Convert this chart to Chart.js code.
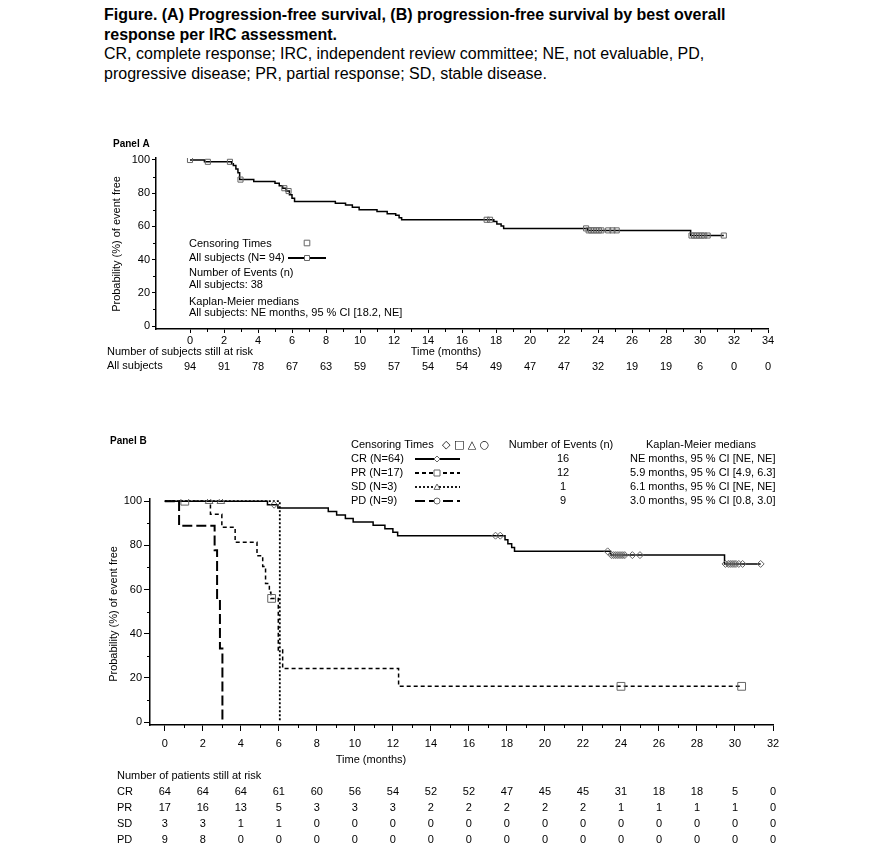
<!DOCTYPE html>
<html>
<head>
<meta charset="utf-8">
<script src="https://cdn.jsdelivr.net/npm/chart.js@4.4.0/dist/chart.umd.min.js"></script>
<style>
  body { margin:0; background:#fff; width:889px; height:853px; overflow:hidden;
         font-family:"Liberation Sans", Arial, sans-serif; color:#000; }
  #head { position:absolute; left:104px; top:5px; font-size:16px; line-height:19.5px; }
  #head b { font-weight:bold; }
  .wrap { position:absolute; left:0; }
  #wrapA { top:130px; width:889px; height:250px; }
  #wrapB { top:420px; width:889px; height:433px; }
</style>
</head>
<body>
<div id="head">
  <b>Figure. (A) Progression-free survival, (B) progression-free survival by best overall<br>response per IRC assessment.</b><br>
  CR, complete response; IRC, independent review committee; NE, not evaluable, PD,<br>
  progressive disease; PR, partial response; SD, stable disease.
</div>
<div class="wrap" id="wrapA"><canvas id="chartA" width="889" height="250"></canvas></div>
<div class="wrap" id="wrapB"><canvas id="chartB" width="889" height="433"></canvas></div>
<script>
// ---- Panel A data (all subjects) ----
const timesA = [0, 0.85, 2.45, 2.55, 2.7, 2.82, 2.92, 3.75, 5.0, 5.25, 5.45, 5.65, 5.85, 6.0, 6.15,
                8.55, 9.15, 9.55, 9.95, 11.0, 11.6, 12.1, 12.3, 12.45, 17.87, 18.05, 18.3, 18.45,
                23.4, 29.45, 31.4];
const survA  = [100, 98.9, 97.8, 96.7, 94.5, 92.3, 88.2, 87.0, 86.0, 84.5, 83.0, 81.3, 79.0, 77.0, 75.0,
                74.0, 72.9, 71.5, 70.0, 69.0, 67.6, 66.7, 65.2, 64.0, 62.9, 61.5, 60.2, 58.8,
                57.6, 54.5, 54.5];
const censorA = [0, 1.05, 2.35, 2.97, 5.55, 5.8, 17.45, 17.65, 23.3, 23.45, 23.6, 23.75, 23.9, 24.05,
                 24.2, 24.6, 24.85, 25.1, 29.5, 29.65, 29.8, 29.95, 30.1, 30.25, 30.45, 31.4];
const riskTimesA = [0, 2, 4, 6, 8, 10, 12, 14, 16, 18, 20, 22, 24, 26, 28, 30, 32, 34];
const riskA = [94, 91, 78, 67, 63, 59, 57, 54, 54, 49, 47, 47, 32, 19, 19, 6, 0, 0];

// ---- Panel B data (by best overall response) ----
const timesCR = [0, 5.4, 5.95, 8.6, 9.04, 9.5, 9.91, 10.96, 11.58, 12.0, 12.25, 17.9, 18.05, 18.25, 18.4,
                 23.45, 29.45, 31.35];
const survCR  = [100, 98.4, 96.9, 95.3, 93.8, 92.2, 90.6, 89.1, 87.5, 85.9, 84.4, 82.6, 80.8, 79.1, 77.3,
                 75.6, 71.6, 71.6];
const censorCR = [5.75, 17.4, 17.65, 23.3, 23.5, 23.6, 23.7, 23.8, 23.9, 24.0, 24.1, 24.2, 24.6, 25.0,
                  29.5, 29.65, 29.75, 29.85, 29.95, 30.05, 30.2, 30.4, 31.35];
const timesPR = [0, 2.4, 3.0, 3.7, 4.85, 5.15, 5.3, 5.5, 5.58, 5.97, 6.2, 12.3, 30.35];
const survPR  = [100, 94.1, 88.2, 81.4, 75.3, 70.5, 62.7, 58.8, 56.0, 32.6, 24.3, 16.2, 16.2];
const censorPR = [1.05, 5.62, 24.0, 30.35];
const timesSD = [0, 6.05];
const survSD  = [100, 0];
const censorSD = [2.33, 2.95];
const timesPD = [0, 0.75, 2.62, 2.75, 2.9, 3.03];
const survPD  = [100, 88.9, 77.8, 55.6, 33.3, 0];
const censorPD = [];

const riskTimesB = [0, 2, 4, 6, 8, 10, 12, 14, 16, 18, 20, 22, 24, 26, 28, 30, 32];
const riskCR = [64, 64, 64, 61, 60, 56, 54, 52, 52, 47, 45, 45, 31, 18, 18, 5, 0];
const riskPR = [17, 16, 13, 5, 3, 3, 3, 2, 2, 2, 2, 2, 1, 1, 1, 1, 0];
const riskSD = [3, 3, 1, 1, 0, 0, 0, 0, 0, 0, 0, 0, 0, 0, 0, 0, 0];
const riskPD = [9, 8, 0, 0, 0, 0, 0, 0, 0, 0, 0, 0, 0, 0, 0, 0, 0];

const groupNames  = ['CR (N=64)', 'PR (N=17)', 'SD (N=3)', 'PD (N=9)'];
const groupEvents = ['16', '12', '1', '9'];
const groupMedians = ['NE months, 95 % CI [NE, NE]', '5.9 months, 95 % CI [4.9, 6.3]',
                      '6.1 months, 95 % CI [NE, NE]', '3.0 months, 95 % CI [0.8, 3.0]'];

const FONT = '"Liberation Sans", Arial, sans-serif';
Chart.defaults.font.family = FONT;
Chart.defaults.color = '#000';

// helpers
function km(times, surv) { return times.map((t, i) => ({x: t, y: surv[i]})); }
function survAt(times, surv, t) {
  let v = surv[0];
  times.forEach((tt, i) => { if (tt <= t) v = surv[i]; });
  return v;
}
function marks(times, surv, cens) { return cens.map(t => ({x: t, y: survAt(times, surv, t)})); }
function range(a, b, s) { const r = []; for (let v = a; v <= b + 1e-9; v += s) r.push(v); return r; }

function text(ctx, s, x, y, align, font) {
  ctx.font = font; ctx.textAlign = align || 'left'; ctx.textBaseline = 'middle';
  ctx.fillText(s, x, y);
}
function marker(ctx, style, x, y, r) {
  ctx.save();
  ctx.beginPath();
  if (style === 'rect') ctx.rect(x - r, y - r, 2 * r, 2 * r);
  else if (style === 'rectRot') { ctx.moveTo(x, y - r); ctx.lineTo(x + r, y); ctx.lineTo(x, y + r); ctx.lineTo(x - r, y); ctx.closePath(); }
  else if (style === 'triangle') { ctx.moveTo(x, y - r); ctx.lineTo(x + r, y + r * 0.8); ctx.lineTo(x - r, y + r * 0.8); ctx.closePath(); }
  else ctx.arc(x, y, r, 0, Math.PI * 2);
  ctx.fillStyle = '#fff'; ctx.fill();
  ctx.stroke();
  ctx.restore();
}

// minor ticks (odd months, odd tens of %)
const minorTicks = {
  id: 'minorTicks',
  afterDraw(chart, args, o) {
    const {ctx, scales: {x, y}} = chart;
    ctx.save(); ctx.strokeStyle = '#000'; ctx.lineWidth = 1;
    o.xs.forEach(v => {
      const px = Math.round(x.getPixelForValue(v)) + 0.5;
      ctx.beginPath(); ctx.moveTo(px, x.top); ctx.lineTo(px, x.top + o.len); ctx.stroke();
    });
    o.ys.forEach(v => {
      const py = Math.round(y.getPixelForValue(v)) + 0.5;
      ctx.beginPath(); ctx.moveTo(y.right, py); ctx.lineTo(y.right - o.len, py); ctx.stroke();
    });
    ctx.restore();
  }
};

function lineDs(times, surv, dash, width) {
  return {type: 'line', data: km(times, surv), stepped: true, borderColor: '#000',
          borderWidth: width, borderDash: dash, pointRadius: 0, fill: false, order: 2};
}
function markDs(times, surv, cens, style, r) {
  return {type: 'scatter', data: marks(times, surv, cens), pointStyle: style, pointRadius: r,
          pointBorderColor: '#666', pointBackgroundColor: 'rgba(255,255,255,0)', pointBorderWidth: 1, order: 1};
}

function axes(xmin, xmax, ymin, ymax, yw, xh, tlX, tlY, padX) {
  return {
    x: {type: 'linear', min: xmin, max: xmax,
        afterBuildTicks: s => { s.ticks = range(0, xmax, 2).map(v => ({value: v})); },
        afterFit: s => { s.height = xh; },
        border: {color: '#000', width: 1.5},
        grid: {drawOnChartArea: false, drawTicks: true, tickLength: tlX, color: '#000'},
        ticks: {padding: padX, font: {size: 11}, maxRotation: 0, autoSkip: false}},
    y: {type: 'linear', min: ymin, max: ymax,
        afterBuildTicks: s => { s.ticks = range(0, 100, 20).map(v => ({value: v})); },
        afterFit: s => { s.width = yw; },
        border: {color: '#000', width: 1.5},
        grid: {drawOnChartArea: false, drawTicks: true, tickLength: tlY, color: '#000'},
        ticks: {padding: 2, font: {size: 11}}}
  };
}

// ---------------- Panel A ----------------
const TOP_A = 130;
const notesA = {
  id: 'notesA',
  afterDraw(chart) {
    const ctx = chart.ctx, x = chart.scales.x;
    ctx.save(); ctx.translate(0, -TOP_A); ctx.fillStyle = '#000';
    const f = '11px ' + FONT;
    text(ctx, 'Panel A', 113, 144, 'left', 'bold 10px ' + FONT);
    ctx.save(); ctx.translate(117, 244); ctx.rotate(-Math.PI / 2);
    text(ctx, 'Probability (%) of event free', 0, 0, 'center', f); ctx.restore();
    text(ctx, 'Censoring Times', 189, 244, 'left', f);
    ctx.strokeStyle = '#666'; ctx.lineWidth = 1;
    marker(ctx, 'rect', 307, 243, 2.8);
    text(ctx, 'All subjects (N= 94)', 189, 258, 'left', f);
    ctx.strokeStyle = '#000'; ctx.lineWidth = 2;
    ctx.beginPath(); ctx.moveTo(288, 258); ctx.lineTo(326, 258); ctx.stroke();
    ctx.strokeStyle = '#666'; ctx.lineWidth = 1; marker(ctx, 'rect', 307, 258, 2.5);
    text(ctx, 'Number of Events (n)', 189, 273, 'left', f);
    text(ctx, 'All subjects: 38', 189, 285, 'left', f);
    text(ctx, 'Kaplan-Meier medians', 189, 302, 'left', f);
    text(ctx, 'All subjects: NE months, 95 % CI [18.2, NE]', 189, 313, 'left', f);
    text(ctx, 'Time (months)', 446, 352, 'center', f);
    text(ctx, 'Number of subjects still at risk', 107, 352, 'left', f);
    text(ctx, 'All subjects', 107, 366, 'left', f);
    riskTimesA.forEach((t, i) => text(ctx, String(riskA[i]), x.getPixelForValue(t), 367, 'center', f));
    ctx.restore();
  }
};

new Chart(document.getElementById('chartA'), {
  data: {datasets: [lineDs(timesA, survA, [], 1.5), markDs(timesA, survA, censorA, 'rect', 3.6)]},
  options: {
    responsive: false, animation: false, devicePixelRatio: 1,
    layout: {padding: {top: 28, right: 121, bottom: 0, left: 0}},
    plugins: {legend: {display: false}, tooltip: {enabled: false},
              minorTicks: {xs: range(1, 33, 2), ys: range(10, 90, 20), len: 3}},
    scales: axes(-2, 34, -1.8, 101.2, 156, 51, 4, 4, 1)
  },
  plugins: [minorTicks, notesA]
});

// ---------------- Panel B ----------------
const TOP_B = 420;
const styleB = [
  {dash: [], style: 'rectRot', r: 3.5},
  {dash: [4, 3], style: 'rect', r: 4},
  {dash: [2, 2], style: 'triangle', r: 4},
  {dash: [10, 4], style: 'circle', r: 3.5}
];
const notesB = {
  id: 'notesB',
  afterDraw(chart) {
    const ctx = chart.ctx, x = chart.scales.x;
    ctx.save(); ctx.translate(0, -TOP_B); ctx.fillStyle = '#000';
    const f = '11px ' + FONT;
    text(ctx, 'Panel B', 110, 441, 'left', 'bold 10px ' + FONT);
    ctx.save(); ctx.translate(114, 614); ctx.rotate(-Math.PI / 2);
    text(ctx, 'Probability (%) of event free', 0, 0, 'center', f); ctx.restore();
    text(ctx, 'Censoring Times', 351, 445, 'left', f);
    text(ctx, '\u25C7 \u25A1 \u25B3 \u25CB', 442, 445, 'left', '11px "DejaVu Sans", sans-serif');
    text(ctx, 'Number of Events (n)', 561, 445, 'center', f);
    text(ctx, 'Kaplan-Meier medians', 701, 445, 'center', f);
    const rows = [459, 473, 487, 501];
    rows.forEach((ry, i) => {
      const st = styleB[i];
      text(ctx, groupNames[i], 351, ry, 'left', f);
      text(ctx, groupEvents[i], 563, ry, 'center', f);
      text(ctx, groupMedians[i], 630, ry, 'left', f);
      ctx.strokeStyle = '#000'; ctx.lineWidth = i === 3 ? 2 : 1.8; ctx.setLineDash(st.dash);
      ctx.beginPath(); ctx.moveTo(415, ry); ctx.lineTo(460, ry); ctx.stroke();
      ctx.setLineDash([]); ctx.strokeStyle = '#666'; ctx.lineWidth = 1;
      marker(ctx, st.style, 437, ry, 3);
    });
    text(ctx, 'Time (months)', 371, 760, 'center', f);
    text(ctx, 'Number of patients still at risk', 117, 776, 'left', f);
    const risk = [riskCR, riskPR, riskSD, riskPD];
    const labels = ['CR', 'PR', 'SD', 'PD'];
    [792, 808, 824, 840].forEach((ry, i) => {
      text(ctx, labels[i], 117, ry, 'left', f);
      riskTimesB.forEach((t, j) => text(ctx, String(risk[i][j]), x.getPixelForValue(t), ry, 'center', f));
    });
    ctx.restore();
  }
};

new Chart(document.getElementById('chartB'), {
  data: {datasets: [
    lineDs(timesCR, survCR, styleB[0].dash, 1.5),
    lineDs(timesPR, survPR, styleB[1].dash, 1.5),
    lineDs(timesSD, survSD, styleB[2].dash, 1.8),
    lineDs(timesPD, survPD, styleB[3].dash, 2),
    markDs(timesCR, survCR, censorCR, 'rectRot', 3.5),
    markDs(timesPR, survPR, censorPR, 'rect', 5.5),
    markDs(timesSD, survSD, censorSD, 'triangle', 4.5),
    markDs(timesPD, survPD, censorPD, 'circle', 4)
  ]},
  options: {
    responsive: false, animation: false, devicePixelRatio: 1,
    layout: {padding: {top: 79, right: 116, bottom: 0, left: 0}},
    plugins: {legend: {display: false}, tooltip: {enabled: false},
              minorTicks: {xs: range(1, 31, 2), ys: range(10, 90, 20), len: 3}},
    scales: axes(-0.78, 32, -1.3, 101, 150, 128, 6, 6, 6)
  },
  plugins: [minorTicks, notesB]
});
</script>
</body>
</html>
